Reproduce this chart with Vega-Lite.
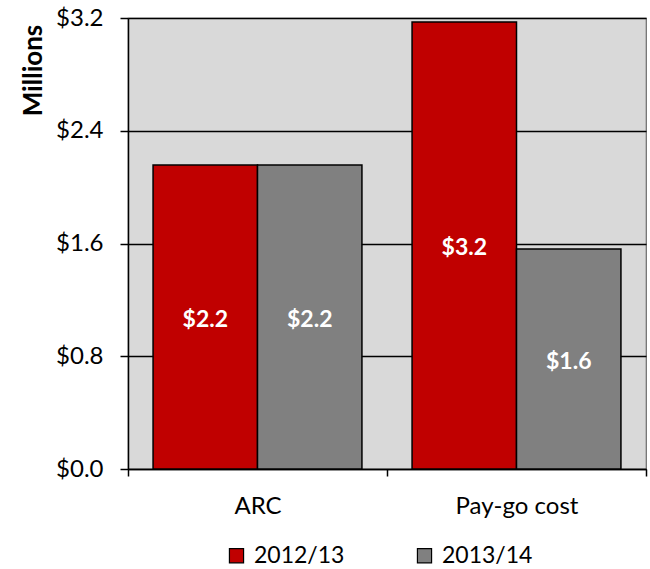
{
  "$schema": "https://vega.github.io/schema/vega-lite/v6.json",
  "width": 518,
  "height": 451,
  "autosize": "none",
  "padding": {"left": 128, "top": 18, "right": 4, "bottom": 100},
  "background": "white",
  "config": {
    "font": "Lato",
    "view": {"fill": "#d9d9d9", "stroke": "#6b6b6b", "strokeWidth": 1.2},
    "axis": {"labelFont": "Lato", "titleFont": "Lato", "labelColor": "black", "titleColor": "black"}
  },
  "data": {
    "values": [
      {"category": "ARC", "year": "2012/13", "value": 2.157, "label": "$2.2"},
      {"category": "ARC", "year": "2013/14", "value": 2.157, "label": "$2.2"},
      {"category": "Pay-go cost", "year": "2012/13", "value": 3.172, "label": "$3.2"},
      {"category": "Pay-go cost", "year": "2013/14", "value": 1.561, "label": "$1.6"}
    ]
  },
  "encoding": {
    "x": {
      "field": "category", "type": "nominal",
      "scale": {"paddingInner": 0, "paddingOuter": 0},
      "axis": {
        "title": null, "labelAngle": 0, "labelFontSize": 24, "labelPadding": 18,
        "domainColor": "black", "tickColor": "black", "tickSize": 7, "tickBand": "extent",
        "domainWidth": 1.5, "tickWidth": 1.5
      }
    },
    "xOffset": {"field": "year", "type": "nominal", "scale": {"paddingOuter": 0.24, "paddingInner": 0}}
  },
  "layer": [
    {
      "mark": {"type": "bar", "stroke": "black", "strokeWidth": 1.5},
      "encoding": {
        "y": {
          "field": "value", "type": "quantitative",
          "scale": {"domain": [0, 3.2], "nice": false},
          "axis": {
            "values": [0, 0.8, 1.6, 2.4, 3.2], "format": "$.1f",
            "title": "Millions", "titleFontSize": 26, "titleFontWeight": "bold",
            "titleAngle": 270, "titleX": -95, "titleY": 52, "titleAlign": "center", "titleBaseline": "middle",
            "labelFontSize": 24, "labelPadding": 17,
            "domainColor": "black", "domainWidth": 1.5, "tickColor": "black", "tickSize": 8, "tickWidth": 1.5,
            "grid": true, "gridColor": "black", "gridWidth": 1.5
          }
        },
        "color": {
          "field": "year", "type": "nominal",
          "scale": {"domain": ["2012/13", "2013/14"], "range": ["#c00000", "#808080"]},
          "legend": {
            "title": null, "orient": "none", "legendX": 97, "legendY": 526,
            "direction": "horizontal", "symbolType": "square", "symbolSize": 200,
            "symbolStrokeColor": "black", "symbolStrokeWidth": 1.2, "labelOffset": 6,
            "labelFontSize": 23, "labelFont": "Lato", "columnPadding": 68, "labelLimit": 300
          }
        }
      }
    },
    {
      "transform": [{"calculate": "datum.value / 2", "as": "mid"}],
      "mark": {"type": "text", "color": "white", "fontWeight": "bold", "fontSize": 23, "font": "Lato", "baseline": "middle", "dy": 3},
      "encoding": {
        "y": {"field": "mid", "type": "quantitative"},
        "text": {"field": "label"}
      }
    }
  ]
}
